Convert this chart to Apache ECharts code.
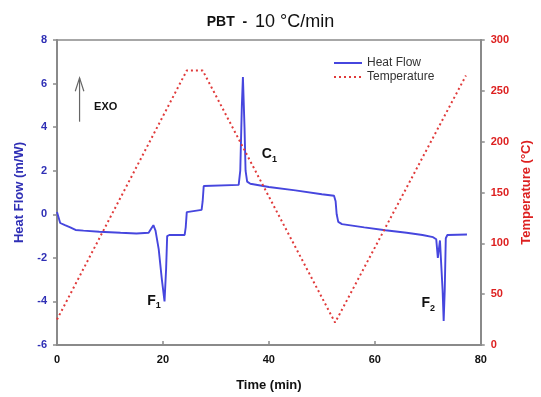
<!DOCTYPE html>
<html>
<head>
<meta charset="utf-8">
<script src="https://cdn.jsdelivr.net/npm/echarts@6/dist/echarts.min.js"></script>
<style>html,body{margin:0;padding:0;background:#fff}#c{width:541px;height:397px}</style>
</head>
<body>
<div id="c"></div>
<script>
// ---- data ----
var hfTime = [0,0.3,0.6,1.5,2.5,3.5,5,8,12,15,17.3,17.8,18.2,18.6,19.2,19.8,20.3,20.6,20.8,21.2,24.1,24.3,24.5,24.8,27.3,27.5,27.7,28,34.3,34.6,34.9,35.1,35.4,35.6,35.9,36.5,40,45,50,52.3,52.6,52.8,53.1,53.8,58,62,66,69,71,71.6,71.9,72.1,72.3,72.5,72.8,73.0,73.2,73.4,73.7,77.4];
var hfValue = [0.1,0.05,-0.4,-0.5,-0.6,-0.72,-0.75,-0.8,-0.85,-0.88,-0.85,-0.65,-0.5,-0.75,-1.6,-3.0,-4.0,-2.5,-1.0,-0.95,-0.95,-0.6,0.1,0.18,0.2,0.6,1.3,1.38,1.35,2,5,6.3,4,2,1.5,1.4,1.25,1.1,0.92,0.85,0.6,0,-0.35,-0.45,-0.6,-0.73,-0.85,-0.95,-1.05,-1.15,-2.0,-2.05,-1.2,-1.15,-3.5,-4.9,-3.5,-1.1,-0.95,-0.93];
var tempTime = [0,24.5,27.5,52.5,77.2];
var tempValue = [25,270,270,22,265];
var xTicks = [0,20,40,60,80];
var hfTicks = [-6,-4,-2,0,2,4,6,8];
var tempTicks = [0,50,100,150,200,250,300];
var seriesNames = ['Heat Flow','Temperature'];

var blue = '#2f2fb5', red = '#dd2020', axisGray = '#8a8a8a';
function pairs(a,b){return a.map(function(v,i){return [v,b[i]];});}

var chart = echarts.init(document.getElementById('c'), null, {renderer:'canvas'});
var font = 'Arial, "Liberation Sans", sans-serif';
chart.setOption({
  animation:false,
  textStyle:{fontFamily:font},
  title:{
    text:'{a|PBT  -  }{b|10 °C/min}',
    left:'center', top:8,
    textStyle:{rich:{
      a:{fontSize:14,fontWeight:'bold',color:'#111',fontFamily:font},
      b:{fontSize:18,fontWeight:'normal',color:'#111',fontFamily:font}
    }}
  },
  legend:{
    orient:'vertical', left:328, top:52, itemWidth:28, itemHeight:13, itemGap:2,
    textStyle:{fontSize:12,color:'#333',fontFamily:font},
    itemStyle:{opacity:0},
    data:seriesNames
  },
  grid:{left:57,right:56,top:40,bottom:51,show:true,borderColor:axisGray,borderWidth:1.5},
  xAxis:{
    type:'value', min:xTicks[0], max:xTicks[xTicks.length-1], interval:20,
    name:'Time (min)', nameLocation:'middle', nameGap:34,
    nameTextStyle:{fontSize:13,fontWeight:'bold',color:'#111'},
    axisLine:{onZero:false,lineStyle:{color:axisGray,width:2}},
    axisTick:{inside:true,length:4,lineStyle:{color:axisGray,width:1.5}},
    axisLabel:{fontSize:11,fontWeight:'bold',color:'#111',margin:9},
    splitLine:{show:false}
  },
  yAxis:[{
    type:'value', min:hfTicks[0], max:hfTicks[hfTicks.length-1], interval:2,
    name:'Heat Flow (m/W)', nameLocation:'middle', nameGap:29, nameRotate:90,
    nameTextStyle:{fontSize:13,fontWeight:'bold',color:blue},
    axisLine:{show:true,onZero:false,lineStyle:{color:axisGray,width:2}},
    axisTick:{show:true,length:4,lineStyle:{color:axisGray,width:1.5}},
    axisLabel:{fontSize:11,fontWeight:'bold',color:blue,margin:10},
    splitLine:{show:false}
  },{
    type:'value', min:tempTicks[0], max:tempTicks[tempTicks.length-1], interval:50,
    position:'right',
    name:'Temperature (°C)', nameLocation:'middle', nameGap:34, nameRotate:90,
    nameTextStyle:{fontSize:13,fontWeight:'bold',color:red},
    axisLine:{show:true,onZero:false,lineStyle:{color:axisGray,width:2}},
    axisTick:{show:true,length:4,lineStyle:{color:axisGray,width:1.5}},
    axisLabel:{fontSize:11,fontWeight:'bold',color:red,margin:10},
    splitLine:{show:false}
  }],
  series:[{
    name:seriesNames[0], type:'line', yAxisIndex:0, showSymbol:false, symbol:'none',
    data:pairs(hfTime,hfValue),
    lineStyle:{color:'#4646de',width:1.9}, itemStyle:{color:'#4646de'}
  },{
    name:seriesNames[1], type:'line', yAxisIndex:1, showSymbol:false, symbol:'none',
    data:pairs(tempTime,tempValue),
    lineStyle:{color:'#e03a3a',width:2,type:[2,3]}, itemStyle:{color:'#e03a3a'}
  }]
});

// annotations placed in data coordinates (time, heat flow)
var annot = [
  {label:'{a|F}{s|1}', t:18.3, v:-3.97},
  {label:'{a|C}{s|1}', t:40.1, v:2.74},
  {label:'{a|F}{s|2}', t:70.1, v:-4.1}
];
var exoText = {t:7.0, v:4.93};
var exoArrow = {t:4.26, from:4.25, to:6.26};
function px(t,v){return chart.convertToPixel({xAxisIndex:0,yAxisIndex:0},[t,v]);}
var g = [];
annot.forEach(function(a){
  var p = px(a.t,a.v);
  g.push({type:'text', x:p[0], y:p[1], style:{text:a.label, align:'center', verticalAlign:'middle',
    rich:{a:{fontSize:14,fontWeight:'bold',fill:'#111',fontFamily:font},
          s:{fontSize:9,fontWeight:'bold',fill:'#111',fontFamily:font,padding:[9,0,0,0]}}}});
});
var pe = px(exoText.t, exoText.v);
g.push({type:'text', x:pe[0], y:pe[1], style:{text:'EXO', fontSize:11, fontWeight:'bold', fill:'#111', fontFamily:font, align:'left', verticalAlign:'middle'}});
var a0 = px(exoArrow.t, exoArrow.from), a1 = px(exoArrow.t, exoArrow.to);
g.push({type:'line', shape:{x1:a0[0],y1:a0[1],x2:a1[0],y2:a1[1]}, style:{stroke:'#666',lineWidth:1.2}});
g.push({type:'polyline', shape:{points:[[a1[0]-4.3,a1[1]+13.4],[a1[0],a1[1]],[a1[0]+4.3,a1[1]+13.4]]}, style:{stroke:'#666',lineWidth:1.2,fill:null}});
chart.setOption({graphic:g});
</script>
</body>
</html>
